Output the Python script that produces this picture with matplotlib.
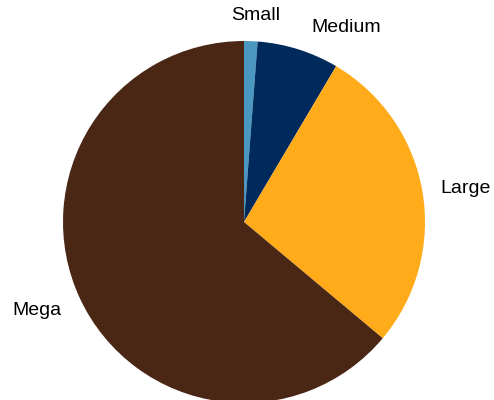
import matplotlib
matplotlib.use("Agg")
import matplotlib.pyplot as plt
from matplotlib.transforms import offset_copy

categories = ["Small", "Medium", "Large", "Mega"]
shares = [1.2, 7.3, 27.6, 63.9]
colors = ["#4a98c2", "#002a5c", "#ffab1a", "#4a2615"]

plt.rcParams["font.family"] = ["Liberation Sans", "DejaVu Sans"]

fig = plt.figure(figsize=(4.94, 4.00), dpi=100)
ax = fig.add_axes([63 / 494, -3 / 400, 362 / 494, 362 / 400])

wedges, texts = ax.pie(
    shares,
    labels=categories,
    colors=colors,
    startangle=90,
    counterclock=False,
    labeldistance=1.1,
    radius=1.0,
    textprops={"fontsize": 14, "color": "#000000"},
    wedgeprops={"linewidth": 0},
)

# keep the tiny top slice's label centred above it
texts[0].set_ha("center")

# nudge labels away from each other near the top of the pie (points)
label_nudges = [(3, 5.5), (5.5, 3), (0, 0), (-1.5, -3)]
for text, (dx, dy) in zip(texts, label_nudges):
    text.set_transform(offset_copy(ax.transData, fig=fig, x=dx, y=dy, units="points"))

ax.set_xlim(-1, 1)
ax.set_ylim(-1, 1)
ax.set_aspect("equal")
ax.axis("off")

fig.savefig("out.png", dpi=100)
